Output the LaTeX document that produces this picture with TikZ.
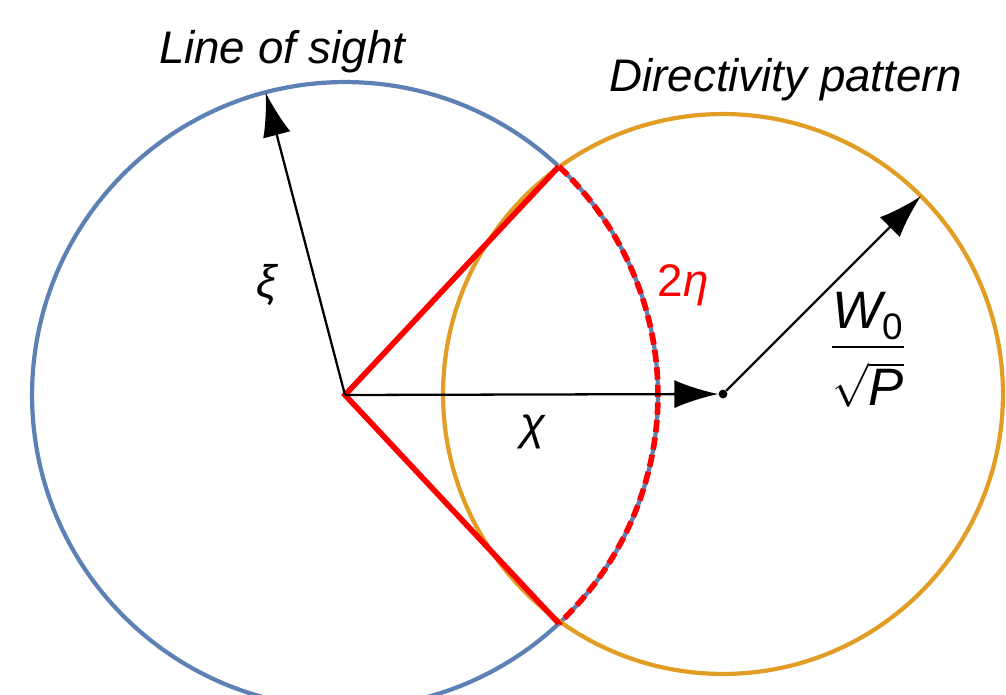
\documentclass[tikz,border=0pt]{standalone}
\usepackage{amsmath}
\usepackage{fontspec}
\setmainfont{Liberation Sans}
\usetikzlibrary{arrows.meta}

\definecolor{losblue}{RGB}{94,129,181}
\definecolor{patorange}{RGB}{225,157,36}

\tikzset{
    losline/.style={draw=losblue, line width=2.4pt},
    patline/.style={draw=patorange, line width=2.4pt},
    vec/.style={line width=1.3pt, -{Latex[length=25pt,width=16pt]}},
    redline/.style={draw=red, line width=3.2pt},
    lbl/.style={font=\fontsize{26}{30}\selectfont},
}

\begin{document}
\begin{tikzpicture}[x=0.02cm,y=-0.02cm]
        \useasboundingbox (0,0) rectangle (1006,695);
        \clip (0,0) rectangle (1006,695);

        \coordinate (o) at (345,395);
        \node[circle, fill, inner sep=0pt, minimum size=5pt] (c) at (723,394) {};
        \coordinate (a) at ([shift={(46.9:6.26cm)}]o);
        \coordinate (b) at ([shift={(-46.9:6.26cm)}]o);
        \coordinate (xitip) at ([shift={(104.7:6.26cm)}]o);
        \coordinate (wtip) at ([shift={(45:5.6cm)}]c.center);

        \draw[losline] (o) circle[radius=6.26cm];
        \draw[patline] (c.center) circle[radius=5.6cm];

        % overlap boundary
        \draw[redline, dash pattern=on 7pt off 3pt] (a) arc[start angle=46.9, end angle=-46.9, radius=6.26cm];
        \draw[redline, line join=miter] (a) -- (o) -- (b);

        \draw[vec] (o) -- (xitip);
        \draw[vec] (o) -- (c);
        \draw[vec] (c) -- (wtip);

        \node[lbl] (xi) at (268,285) {\textit{ξ}};
        \node[lbl] (chi) at (533,432) {\textit{χ}};
        \node[lbl, text=red] (eta) at (683,285) {2\textit{η}};
        \node[lbl, font=\fontsize{30}{34}\selectfont] (ratio) at (868,350) {$\dfrac{\textit{W}_{\text{0}}\rule[-7pt]{0pt}{0pt}}{\rule{0pt}{30pt}\sqrt{\textit{P}}}$};
        \node[lbl] (los) at (283,52) {\textit{Line of sight}};
        \node[lbl] (dir) at (786,80) {\textit{Directivity pattern}};
\end{tikzpicture}
\end{document}
